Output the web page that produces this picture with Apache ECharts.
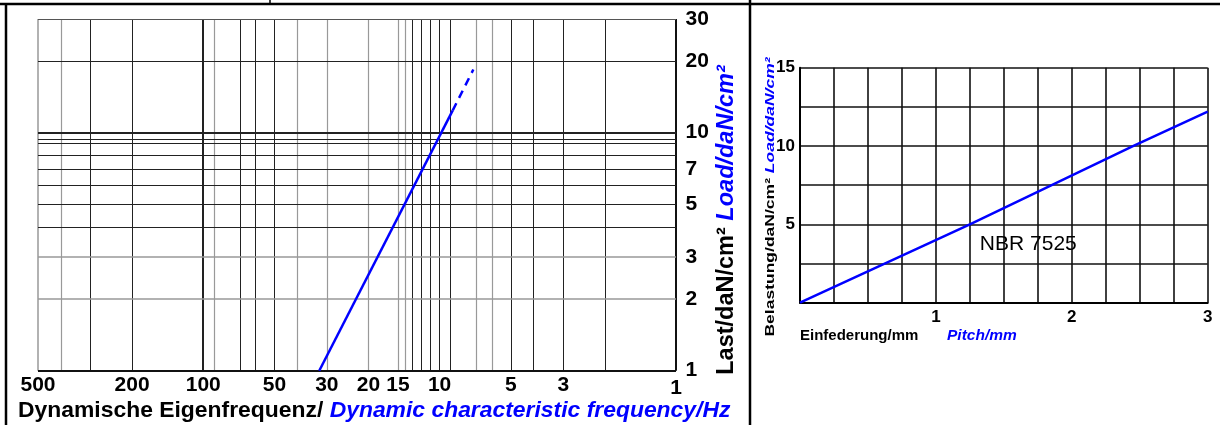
<!DOCTYPE html>
<html><head><meta charset="utf-8">
<script src="https://cdn.jsdelivr.net/npm/echarts@6/dist/echarts.min.js"></script>
<style>html,body{margin:0;padding:0;background:#fff}#c{width:1220px;height:425px}</style>
</head><body><div id="c"></div>
<script>
// ---- left chart (log-log, frequency axis reversed) ----
const freqTickLabels = [500, 200, 100, 50, 30, 20, 15, 10, 5, 3, 1];
const loadTickLabels = [30, 20, 10, 7, 5, 3, 2, 1];
const freqGridDark = [300, 200, 100, 70, 60, 50, 13, 12, 11, 10, 9, 5, 4, 3, 2];
const freqGridGray = [400, 90, 40, 30, 20, 15, 14, 7, 6];
const loadGridDark = [20, 10, 9.4, 9, 8, 7, 6, 5, 4];
const loadGridGray = [3, 2];
const curveSolid = [[32.3, 1], [8.8, 12.4]];
const curveDashed = [[8.8, 12.4], [7.2, 18.4]];
// ---- right chart (linear) ----
const pitchMm = [0, 1.25, 2.45, 3];
const loadNBR = [0, 5, 10, 12.2];
const nbrLabelPos = [1.68, 3.73];

const FONT = 'Liberation Sans, Arial, sans-serif';
const NARROW = 'Liberation Sans Narrow, Arial Narrow, Liberation Sans, sans-serif';
const BLUE = '#0000ff';

const chart = echarts.init(document.getElementById('c'), null, {renderer: 'canvas'});

const vLines = [];
freqGridDark.forEach(v => vLines.push({xAxis: v, lineStyle: {color: '#222', width: v === 100 ? 2 : 1, type: 'solid'}}));
freqGridGray.forEach(v => vLines.push({xAxis: v, lineStyle: {color: '#999', width: 1.2, type: 'solid'}}));
vLines.push({xAxis: 500, lineStyle: {color: '#999', width: 1.5, type: 'solid'}});
vLines.push({xAxis: 1, lineStyle: {color: '#111', width: 2, type: 'solid'}});
loadGridDark.forEach(v => vLines.push({yAxis: v, lineStyle: {color: '#222', width: v === 10 ? 2 : 1, type: 'solid'}}));
loadGridGray.forEach(v => vLines.push({yAxis: v, lineStyle: {color: '#999', width: 1.5, type: 'solid'}}));
vLines.push({yAxis: 30, lineStyle: {color: '#555', width: 1, type: 'solid'}});
vLines.push({yAxis: 1, lineStyle: {color: '#111', width: 2, type: 'solid'}});

const tickFont = {fontFamily: FONT, fontSize: 21, fontWeight: 'bold', color: '#000', opacity: 1, textBorderWidth: 0};
const hidden = {color: 'rgba(0,0,0,0)', borderWidth: 0, opacity: 1};

const option = {
  animation: false,
  backgroundColor: '#fff',
  grid: [
    {left: 38, top: 19, width: 638, height: 351.7},
    {left: 800, top: 67.7, width: 407.7, height: 235}
  ],
  xAxis: [
    {gridIndex: 0, type: 'log', logBase: 10, min: 1, max: 500, inverse: true,
     axisLine: {show: false}, axisTick: {show: false}, axisLabel: {show: false}, splitLine: {show: false}},
    {gridIndex: 1, type: 'value', min: 0, max: 3, interval: 0.25,
     axisLine: {lineStyle: {color: '#000', width: 2}}, axisTick: {show: false},
     splitLine: {lineStyle: {color: '#111', width: 1.6}},
     axisLabel: {margin: 6, color: '#000', fontFamily: NARROW, fontSize: 17, fontWeight: 'bold',
       formatter: v => (v > 0 && Math.abs(v - Math.round(v)) < 1e-9) ? String(Math.round(v)) : ''}}
  ],
  yAxis: [
    {gridIndex: 0, type: 'log', logBase: 10, min: 1, max: 30,
     axisLine: {show: false}, axisTick: {show: false}, axisLabel: {show: false}, splitLine: {show: false}},
    {gridIndex: 1, type: 'value', min: 0, max: 15, interval: 2.5,
     axisLine: {lineStyle: {color: '#000', width: 2}}, axisTick: {show: false},
     splitLine: {lineStyle: {color: '#111', width: 1.6}},
     axisLabel: {margin: 5, color: '#000', fontFamily: NARROW, fontSize: 17, fontWeight: 'bold',
       formatter: v => (v > 0 && v % 5 === 0) ? String(v) : ''}}
  ],
  series: [
    {type: 'scatter', xAxisIndex: 0, yAxisIndex: 0, silent: true, symbolSize: 1,
     itemStyle: hidden,
     data: freqTickLabels.map(v => ({value: [v, 1], label: v === 1 ? {offset: [0, 3]} : {}})),
     label: Object.assign({show: true, position: 'bottom', distance: 4, formatter: p => String(p.value[0])}, tickFont),
     markLine: {silent: true, symbol: ['none', 'none'], label: {show: false}, animation: false, data: vLines},
     z: 1},
    {type: 'scatter', xAxisIndex: 0, yAxisIndex: 0, silent: true, symbolSize: 1,
     itemStyle: hidden,
     data: loadTickLabels.map(v => [1, v]),
     label: Object.assign({show: true, position: 'right', distance: 9, formatter: p => String(p.value[1])}, tickFont),
     z: 1},
    {type: 'line', xAxisIndex: 0, yAxisIndex: 0, data: curveSolid, symbol: 'none',
     lineStyle: {color: BLUE, width: 2.5}, z: 5},
    {type: 'line', xAxisIndex: 0, yAxisIndex: 0, data: curveDashed, symbol: 'none',
     lineStyle: {color: BLUE, width: 2.5, type: [8, 6]}, z: 5},
    {type: 'line', xAxisIndex: 1, yAxisIndex: 1, data: pitchMm.map((x, i) => [x, loadNBR[i]]),
     symbol: 'none', lineStyle: {color: BLUE, width: 2.5}, z: 5},
    {type: 'scatter', xAxisIndex: 1, yAxisIndex: 1, silent: true, symbolSize: 1, itemStyle: hidden,
     data: [nbrLabelPos],
     label: {show: true, position: 'inside', formatter: 'NBR 7525', fontFamily: FONT, fontSize: 21,
       color: '#000', opacity: 1, textBorderWidth: 0},
     z: 6}
  ],
  graphic: [
    // table borders
    {type: 'line', shape: {x1: 0, y1: 4, x2: 1220, y2: 4}, style: {stroke: '#000', lineWidth: 2.5}, silent: true},
    {type: 'line', shape: {x1: 6, y1: 4, x2: 6, y2: 425}, style: {stroke: '#000', lineWidth: 2.5}, silent: true},
    {type: 'line', shape: {x1: 750, y1: 0, x2: 750, y2: 425}, style: {stroke: '#000', lineWidth: 2.5}, silent: true},
    {type: 'line', shape: {x1: 270, y1: 0, x2: 270, y2: 4}, style: {stroke: '#000', lineWidth: 1.5}, silent: true},
    // left x-axis title
    {type: 'text', x: 18, y: 411, silent: true,
     style: {text: '{a|Dynamische Eigenfrequenz/ }{b|Dynamic characteristic frequency/Hz}',
       verticalAlign: 'middle', align: 'left',
       rich: {a: {fontFamily: FONT, fontSize: 22.9, fontWeight: 'bold', fill: '#000'},
              b: {fontFamily: FONT, fontSize: 22.9, fontWeight: 'bold', fontStyle: 'italic', fill: BLUE}}}},
    // left y-axis title
    {type: 'text', x: 727, y: 220, rotation: Math.PI / 2, silent: true,
     style: {text: '{a|Last/daN/cm² }{b|Load/daN/cm²}', align: 'center', verticalAlign: 'middle',
       rich: {a: {fontFamily: FONT, fontSize: 23.5, fontWeight: 'bold', fill: '#000'},
              b: {fontFamily: FONT, fontSize: 23.5, fontWeight: 'bold', fontStyle: 'italic', fill: BLUE}}}},
    // right x-axis titles
    {type: 'text', x: 800, y: 336, silent: true,
     style: {text: 'Einfederung/mm', fontFamily: FONT, fontSize: 15, fontWeight: 'bold', fill: '#000', verticalAlign: 'middle'}},
    {type: 'text', x: 947, y: 336, silent: true,
     style: {text: 'Pitch/mm', fontFamily: FONT, fontSize: 15.5, fontWeight: 'bold', fontStyle: 'italic', fill: BLUE, verticalAlign: 'middle'}},
    // right y-axis title
    {type: 'text', x: 770, y: 197, rotation: Math.PI / 2, scaleY: 0.75, silent: true,
     style: {text: '{a|Belastung/daN/cm² }{b|Load/daN/cm²}', align: 'center', verticalAlign: 'middle',
       rich: {a: {fontFamily: FONT, fontSize: 17.5, fontWeight: 'bold', fill: '#000'},
              b: {fontFamily: FONT, fontSize: 17.5, fontWeight: 'bold', fontStyle: 'italic', fill: BLUE}}}}
  ]
};
chart.setOption(option);
</script></body></html>
